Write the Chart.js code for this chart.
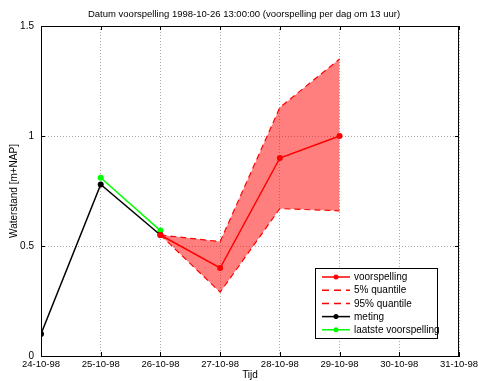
<!DOCTYPE html>
<html>
<head>
<meta charset="utf-8">
<script src="https://cdn.jsdelivr.net/npm/chart.js@4"></script>
<style>
    html, body { margin: 0; padding: 0; background: #fff; }
    #wrap { width: 478px; height: 381px; }
</style>
</head>
<body>
<div id="wrap"><canvas id="chart" width="478" height="381"></canvas></div>
<script>
// Data (x = day of October 1998)
const dagen = [24, 25, 26, 27, 28, 29, 30, 31];
const tickLabels = ['24-10-98', '25-10-98', '26-10-98', '27-10-98', '28-10-98', '29-10-98', '30-10-98', '31-10-98'];

const metingDagen = [24, 25, 26];
const meting = [0.10, 0.78, 0.55];

const laatsteDagen = [25, 26];
const laatsteVoorspelling = [0.81, 0.57];

const voorspellingDagen = [26, 27, 28, 29];
const voorspelling = [0.55, 0.40, 0.90, 1.00];
const quantile5 = [0.55, 0.29, 0.67, 0.66];
const quantile95 = [0.55, 0.52, 1.13, 1.35];

const yTicks = [0, 0.5, 1, 1.5];

const FONT = '"Liberation Sans", Arial, sans-serif';

function toPoints(xs, ys) {
    return xs.map((x, i) => ({ x: x, y: ys[i] }));
}

// Legend entries (drawn by hand inside the plot)
const legendItems = [
    { label: 'voorspelling', color: '#ff0000', dash: [], marker: true },
    { label: '5% quantile', color: '#ff0000', dash: [7, 5], marker: false },
    { label: '95% quantile', color: '#ff0000', dash: [7, 5], marker: false },
    { label: 'meting', color: '#000000', dash: [], marker: true },
    { label: 'laatste voorspelling', color: '#00ff00', dash: [], marker: true }
];

const decorPlugin = {
    id: 'decor',
    afterDraw(chart) {
        const ctx = chart.ctx;
        const a = chart.chartArea;
        ctx.save();

        // box round the axes
        ctx.strokeStyle = '#000';
        ctx.lineWidth = 1;
        ctx.setLineDash([]);
        ctx.strokeRect(a.left + 0.5, a.top + 0.5, a.right - a.left - 1, a.bottom - a.top);

        // small inward tick marks
        const xs = chart.scales.x, ys = chart.scales.y;
        ctx.beginPath();
        dagen.forEach(d => {
            const px = Math.round(xs.getPixelForValue(d)) + 0.5;
            ctx.moveTo(px, a.bottom); ctx.lineTo(px, a.bottom - 4);
            ctx.moveTo(px, a.top); ctx.lineTo(px, a.top + 4);
        });
        yTicks.forEach(v => {
            const py = Math.round(ys.getPixelForValue(v)) + 0.5;
            ctx.moveTo(a.left, py); ctx.lineTo(a.left + 4, py);
            ctx.moveTo(a.right, py); ctx.lineTo(a.right - 4, py);
        });
        ctx.stroke();

        // title
        ctx.fillStyle = '#000';
        ctx.font = '9.5px ' + FONT;
        ctx.textAlign = 'center';
        ctx.textBaseline = 'middle';
        ctx.fillText('Datum voorspelling 1998-10-26 13:00:00 (voorspelling per dag om 13 uur)', 244, 14);

        // y axis title
        ctx.save();
        ctx.translate(14, (a.top + a.bottom) / 2);
        ctx.rotate(-Math.PI / 2);
        ctx.font = '10px ' + FONT;
        ctx.fillText('Waterstand [m+NAP]', 0, 0);
        ctx.restore();

        // legend
        const lx = 315, ly = 268, lw = 122, lh = 70;
        ctx.fillStyle = '#fff';
        ctx.fillRect(lx, ly, lw, lh);
        ctx.strokeStyle = '#000';
        ctx.strokeRect(lx + 0.5, ly + 0.5, lw, lh);
        ctx.textAlign = 'left';
        ctx.font = '10px ' + FONT;
        legendItems.forEach((it, i) => {
            const y = ly + 9 + i * 13.2;
            ctx.strokeStyle = it.color;
            ctx.lineWidth = 1.5;
            ctx.setLineDash(it.dash);
            ctx.beginPath();
            ctx.moveTo(lx + 7, y);
            ctx.lineTo(lx + 35, y);
            ctx.stroke();
            ctx.setLineDash([]);
            if (it.marker) {
                ctx.fillStyle = it.color;
                ctx.beginPath();
                ctx.arc(lx + 21, y, 2.5, 0, Math.PI * 2);
                ctx.fill();
            }
            ctx.fillStyle = '#000';
            ctx.fillText(it.label, lx + 39, y + 0.5);
        });

        ctx.restore();
    }
};

function initChart() {
    const ctx = document.getElementById('chart').getContext('2d');

    return new Chart(ctx, {
        type: 'line',
        data: {
            datasets: [
                {
                    label: '5% quantile',
                    data: toPoints(voorspellingDagen, quantile5),
                    borderColor: '#ff0000',
                    borderWidth: 1.2,
                    borderDash: [6, 4],
                    pointRadius: 0,
                    fill: false
                },
                {
                    label: '95% quantile',
                    data: toPoints(voorspellingDagen, quantile95),
                    borderColor: '#ff0000',
                    borderWidth: 1.2,
                    borderDash: [6, 4],
                    pointRadius: 0,
                    backgroundColor: 'rgba(255, 0, 0, 0.5)',
                    fill: '-1'
                },
                {
                    label: 'voorspelling',
                    data: toPoints(voorspellingDagen, voorspelling),
                    borderColor: '#ff0000',
                    backgroundColor: '#ff0000',
                    borderWidth: 1.5,
                    pointRadius: 3,
                    pointBorderWidth: 0,
                    fill: false
                },
                {
                    label: 'meting',
                    data: toPoints(metingDagen, meting),
                    borderColor: '#000000',
                    backgroundColor: '#000000',
                    borderWidth: 1.5,
                    pointRadius: 3,
                    pointBorderWidth: 0,
                    fill: false
                },
                {
                    label: 'laatste voorspelling',
                    data: toPoints(laatsteDagen, laatsteVoorspelling),
                    borderColor: '#00ff00',
                    backgroundColor: '#00ff00',
                    borderWidth: 1.5,
                    pointRadius: 3,
                    pointBorderWidth: 0,
                    fill: false
                }
            ]
        },
        options: {
            responsive: false,
            animation: false,
            layout: { padding: { top: 26, right: 19, bottom: 0, left: 0 } },
            plugins: {
                legend: { display: false },
                title: { display: false },
                tooltip: { enabled: false }
            },
            scales: {
                x: {
                    type: 'linear',
                    min: 24,
                    max: 31,
                    afterBuildTicks(scale) {
                        scale.ticks = dagen.map(d => ({ value: d }));
                    },
                    afterFit(scale) {
                        // keep the plot box where it is; let the end labels overflow
                        scale.height = 25;
                        scale.paddingLeft = 0;
                        scale.paddingRight = 0;
                    },
                    ticks: {
                        color: '#000',
                        font: { family: FONT, size: 9.5 },
                        padding: 3,
                        maxRotation: 0,
                        autoSkip: false,
                        callback: (v) => tickLabels[dagen.indexOf(v)]
                    },
                    grid: {
                        color: '#aaa',
                        lineWidth: 1,
                        drawTicks: false
                    },
                    border: { display: true, color: '#000', dash: [1, 2] },
                    title: {
                        display: true,
                        text: 'Tijd',
                        color: '#000',
                        font: { family: FONT, size: 10 },
                        padding: { top: 0, bottom: 0 }
                    }
                },
                y: {
                    min: 0,
                    max: 1.5,
                    afterBuildTicks(scale) {
                        scale.ticks = yTicks.map(v => ({ value: v }));
                    },
                    afterFit(scale) {
                        scale.width = 41;
                        scale.paddingTop = 0;
                        scale.paddingBottom = 0;
                    },
                    ticks: {
                        color: '#000',
                        font: { family: FONT, size: 10 },
                        padding: 7,
                        callback: (v) => String(v)
                    },
                    grid: {
                        color: '#aaa',
                        lineWidth: 1,
                        drawTicks: false
                    },
                    border: { display: true, color: '#000', dash: [1, 2] },
                    title: { display: false }
                }
            }
        },
        plugins: [decorPlugin]
    });
}

document.addEventListener('DOMContentLoaded', initChart);
</script>
</body>
</html>
